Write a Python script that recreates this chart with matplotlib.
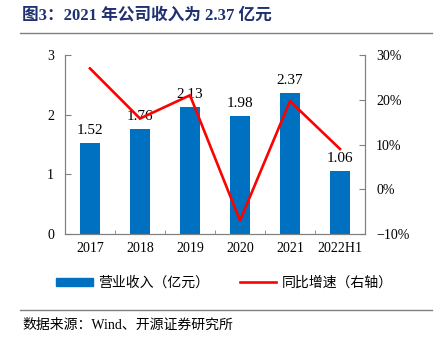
import matplotlib
matplotlib.use("Agg")
import matplotlib.pyplot as plt
from matplotlib.lines import Line2D
from matplotlib.patches import Patch
from matplotlib.ticker import FixedLocator, PercentFormatter

plt.rcParams['font.family'] = ['Liberation Serif', 'Noto Sans CJK SC']

# %% data
years = ['2017', '2018', '2019', '2020', '2021', '2022H1']
revenue = [1.52, 1.76, 2.13, 1.98, 2.37, 1.06]      # 亿元
growth = [27.0, 15.8, 21.0, -7.0, 19.7, 9.0]        # %

blue = '#0070C0'
red = '#FF0000'
grey = '#808080'

fig = plt.figure(figsize=(4.4, 3.47), dpi=100)
ax = fig.add_axes([0.1477, 0.3256, 0.6818, 0.5159])
ax2 = ax.twinx()

x = range(len(years))
ax.bar(x, revenue, width=0.4, color=blue, zorder=2)
for i, v in enumerate(revenue):
    ax.text(i, v + 0.1, f'{v:.2f}', ha='center', va='bottom', fontsize=11, zorder=3)

ax2.plot(x, growth, color=red, lw=1.9, zorder=4)

ax.set_xlim(-0.5, len(years) - 0.5)
ax.set_ylim(0, 3)
ax.set_yticks([0, 1, 2, 3])
ax2.set_ylim(-10, 30)
ax2.set_yticks([-10, 0, 10, 20, 30])
ax2.yaxis.set_major_formatter(PercentFormatter(decimals=0))

ax.set_xticks(list(x))
ax.set_xticklabels(years)
ax.xaxis.set_minor_locator(FixedLocator([i + 0.5 for i in range(len(years) - 1)]))
ax.tick_params(axis='x', which='major', length=0, labelsize=10, pad=6)
ax.tick_params(axis='x', which='minor', length=3, direction='in', color=grey)
ax.tick_params(axis='y', length=4, direction='in', color=grey, labelsize=10, pad=8)
ax2.tick_params(axis='y', length=4, direction='in', color=grey, labelsize=10, pad=8)

for a in (ax, ax2):
    a.spines['top'].set_visible(False)
    for s in ('left', 'right', 'bottom'):
        a.spines[s].set_color(grey)
        a.spines[s].set_linewidth(0.8)

# title and rules
fig.text(0.05, 0.955, '图3：2021 年公司收入为 2.37 亿元', fontsize=12, fontweight='bold',
         color='#1F3170', va='center', ha='left')
fig.add_artist(Line2D([0.045, 0.982], [0.905, 0.905], color=grey, lw=1))
fig.add_artist(Line2D([0.045, 0.982], [0.107, 0.107], color=grey, lw=1))
fig.text(0.05, 0.063, '数据来源：Wind、开源证券研究所', fontsize=10, va='center', ha='left')

handles = [Patch(color=blue), Line2D([0], [0], color=red, lw=1.9)]
fig.legend(handles, ['营业收入（亿元）', '同比增速（右轴）'], loc='center',
           bbox_to_anchor=(0.51, 0.185), ncol=2, frameon=False, fontsize=10,
           handlelength=2.6, handleheight=0.5, columnspacing=2.2, handletextpad=0.4)

fig.savefig('out.png', dpi=100)
